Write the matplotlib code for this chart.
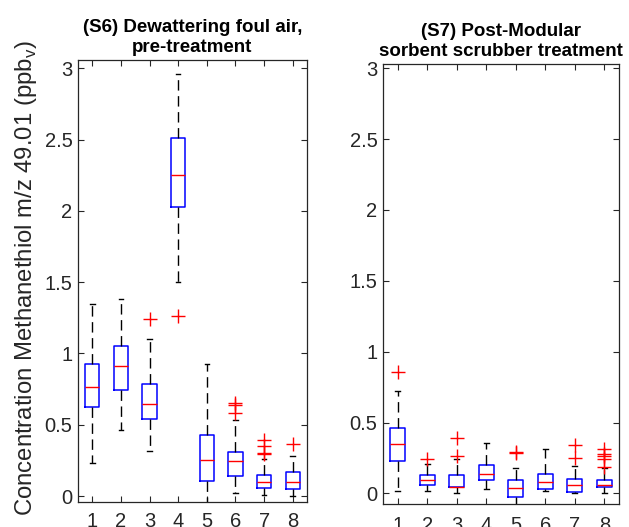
import matplotlib
matplotlib.use('Agg')
import matplotlib.pyplot as plt

plt.rcParams['font.family'] = ['Liberation Sans', 'DejaVu Sans']
plt.rcParams['mathtext.fontset'] = 'custom'
plt.rcParams['mathtext.rm'] = 'Liberation Sans'

# Box statistics (ppbv)
positions = [1, 2, 3, 4, 5, 6, 7, 8]

s6_lo = [0.234, 0.461, 0.316, 1.502, -0.06, 0.021, 0.005, 0.0]
s6_q1 = [0.625, 0.742, 0.543, 2.027, 0.103, 0.140, 0.058, 0.049]
s6_med = [0.765, 0.915, 0.644, 2.249, 0.250, 0.246, 0.100, 0.096]
s6_q3 = [0.929, 1.050, 0.789, 2.513, 0.431, 0.311, 0.147, 0.168]
s6_hi = [1.350, 1.385, 1.098, 2.960, 0.924, 0.536, 0.262, 0.283]
s6_fliers = [[], [], [1.238], [1.264], [], [0.65, 0.640, 0.585],
             [0.396, 0.349, 0.304, 0.297], [0.367]]

s7_lo = [0.016, 0.019, 0.0, 0.033, -0.10, 0.019, 0.005, 0.0]
s7_q1 = [0.228, 0.059, 0.042, 0.094, -0.024, 0.028, 0.012, 0.042]
s7_med = [0.346, 0.094, 0.047, 0.136, 0.035, 0.082, 0.059, 0.059]
s7_q3 = [0.464, 0.129, 0.129, 0.200, 0.094, 0.136, 0.101, 0.094]
s7_hi = [0.725, 0.210, 0.240, 0.358, 0.180, 0.311, 0.193, 0.180]
s7_fliers = [[0.859], [0.240], [0.393, 0.264], [], [0.294, 0.285],
             [], [0.341, 0.252], [0.313, 0.275, 0.264, 0.240, 0.188]]

titles = ['(S6) Dewattering foul air,\npre-treatment',
          '(S7) Post-Modular\nsorbent scrubber treatment']
ylabel = 'Concentration Methanethiol m/z 49.01 (ppb$_\\mathregular{v}$)'
yticks = [0, 0.5, 1, 1.5, 2, 2.5, 3]
ytick_labels = ['0', '0.5', '1', '1.5', '2', '2.5', '3']

GRAY = '#262626'


def make_stats(lo, q1, med, q3, hi, fliers):
    return [dict(whislo=a, q1=b, med=c, q3=d, whishi=e, fliers=f)
            for a, b, c, d, e, f in zip(lo, q1, med, q3, hi, fliers)]


def draw_panel(ax, stats, title, ylim, xpad):
    ax.bxp(stats, positions=positions, widths=0.5, capwidths=0.16,
           boxprops=dict(color='blue', linewidth=1.1),
           medianprops=dict(color='red', linewidth=1.0),
           whiskerprops=dict(color='black', linewidth=1.0, linestyle=(0, (7.5, 4))),
           capprops=dict(color='black', linewidth=1.0),
           flierprops=dict(marker='+', markeredgecolor='red', markersize=9.5,
                           markeredgewidth=1.0, linestyle='none'))
    ax.set_xlim(0.5, 8.5)
    ax.set_ylim(*ylim)
    ax.set_xticks(positions)
    ax.set_xticklabels([str(p) for p in positions])
    ax.set_yticks(yticks)
    ax.set_yticklabels(ytick_labels)
    ax.tick_params(direction='in', top=True, right=True, length=4, width=0.8,
                   colors=GRAY, labelsize=14.5)
    ax.tick_params(axis='x', pad=xpad)
    ax.tick_params(axis='y', pad=4)
    for sp in ax.spines.values():
        sp.set_color(GRAY)
        sp.set_linewidth(0.9)
    ax.annotate(title, xy=(0.5, 1.0), xycoords='axes fraction',
                xytext=(0, 3), textcoords='offset points',
                ha='center', va='bottom', fontsize=13.5, fontweight='bold',
                linespacing=1.25)


fig = plt.figure(figsize=(6.29, 5.27), dpi=100)
ax1 = fig.add_axes([78 / 629, 1 - 502 / 527, 229 / 629, 442 / 527])
ax2 = fig.add_axes([383 / 629, 1 - 504 / 527, 236 / 629, 440 / 527])

draw_panel(ax1, make_stats(s6_lo, s6_q1, s6_med, s6_q3, s6_hi, s6_fliers),
           titles[0], (-0.042, 3.058), 7.5)
draw_panel(ax2, make_stats(s7_lo, s7_q1, s7_med, s7_q3, s7_hi, s7_fliers),
           titles[1], (-0.075, 3.03), 8.5)

fig.text(26 / 629, 1 - 40 / 527, ylabel, rotation=90, ha='center', va='top',
         fontsize=17.2, color=GRAY)

fig.savefig('out.png', dpi=100)
